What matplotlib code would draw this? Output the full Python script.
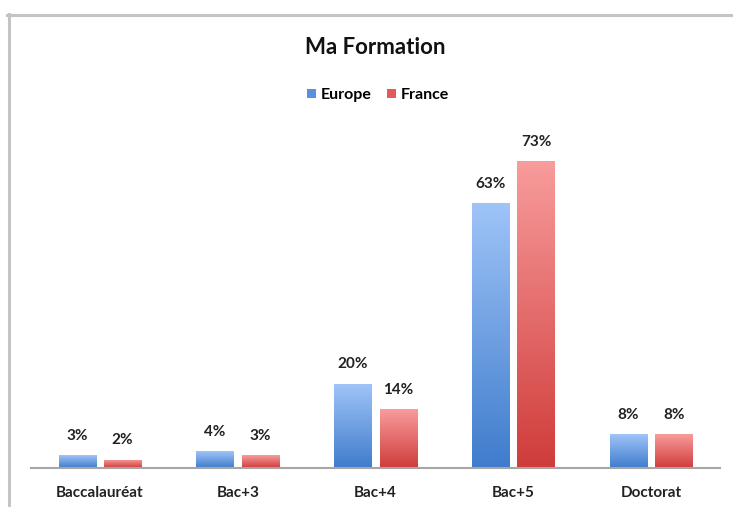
import numpy as np
import matplotlib
matplotlib.use("Agg")
import matplotlib.pyplot as plt
from matplotlib.patches import Patch
from matplotlib.lines import Line2D
from matplotlib.colors import LinearSegmentedColormap

plt.rcParams['font.family'] = ['Lato', 'DejaVu Sans']

categories = ["Baccalauréat", "Bac+3", "Bac+4", "Bac+5", "Doctorat"]
europe = [3, 4, 20, 63, 8]
france = [2, 3, 14, 73, 8]
series_names = ["Europe", "France"]

W, H = 733, 507
fig = plt.figure(figsize=(W / 100, H / 100), dpi=100)
ax = fig.add_axes([31 / W, (H - 468) / H, (720 - 31) / W, (468 - 132) / H])

blue_cm = LinearSegmentedColormap.from_list("b", ["#3f7ccc", "#9fc4f8"])
red_cm = LinearSegmentedColormap.from_list("r", ["#cf3c3a", "#f89c9c"])

x = np.arange(len(categories))
width = 0.27
offset = 0.165
grad = np.linspace(0, 1, 256).reshape(-1, 1)


def gradient_bars(xs, vals, cmap):
    bars = ax.bar(xs, vals, width, facecolor="none", edgecolor="none")
    for b in bars:
        x0, y0 = b.get_x(), b.get_y()
        im = ax.imshow(grad, cmap=cmap, origin="lower", aspect="auto",
                       extent=[x0, x0 + b.get_width(), y0, y0 + b.get_height()],
                       zorder=2)
        im.set_clip_path(b)
    return bars


gradient_bars(x - offset, europe, blue_cm)
gradient_bars(x + offset, france, red_cm)

for xs, vals in [(x - offset, europe), (x + offset, france)]:
    for xi, v in zip(xs, vals):
        ax.text(xi, v + 3.0, f"{v}%", ha="center", va="bottom",
                fontsize=11, fontweight="bold", color="#222222")

ax.set_xlim(-0.5, len(categories) - 0.5)
ax.set_ylim(0, 80)
ax.set_xticks(x)
ax.set_xticklabels(categories, fontsize=11, fontweight="bold", color="#222222")
ax.tick_params(axis="x", length=0, pad=13)
ax.set_yticks([])
for s in ["top", "right", "left"]:
    ax.spines[s].set_visible(False)
ax.spines["bottom"].set_color("#a6a6a6")
ax.spines["bottom"].set_linewidth(1.5)

fig.text(375 / W, 1 - 48 / H, "Ma Formation", ha="center", va="center",
         fontsize=16, fontweight="bold", color="#111111")

handles = [Patch(facecolor="#5b90dc"), Patch(facecolor="#e25a5a")]
fig.legend(handles, series_names, loc="center", ncol=2,
           bbox_to_anchor=(378 / W, 1 - 95 / H), frameon=False,
           handlelength=0.55, handleheight=0.55, handletextpad=0.3,
           columnspacing=1.0, prop={"weight": "bold", "size": 11.5})

# frame lines (top and left) of the screenshot
fig.add_artist(Line2D([7 / W, 1], [1 - 14.5 / H, 1 - 14.5 / H], color="#c4c4c4", lw=2.2))
fig.add_artist(Line2D([8.5 / W, 8.5 / W], [0, 1 - 14 / H], color="#c4c4c4", lw=2.2))

fig.savefig("out.png", dpi=100)
